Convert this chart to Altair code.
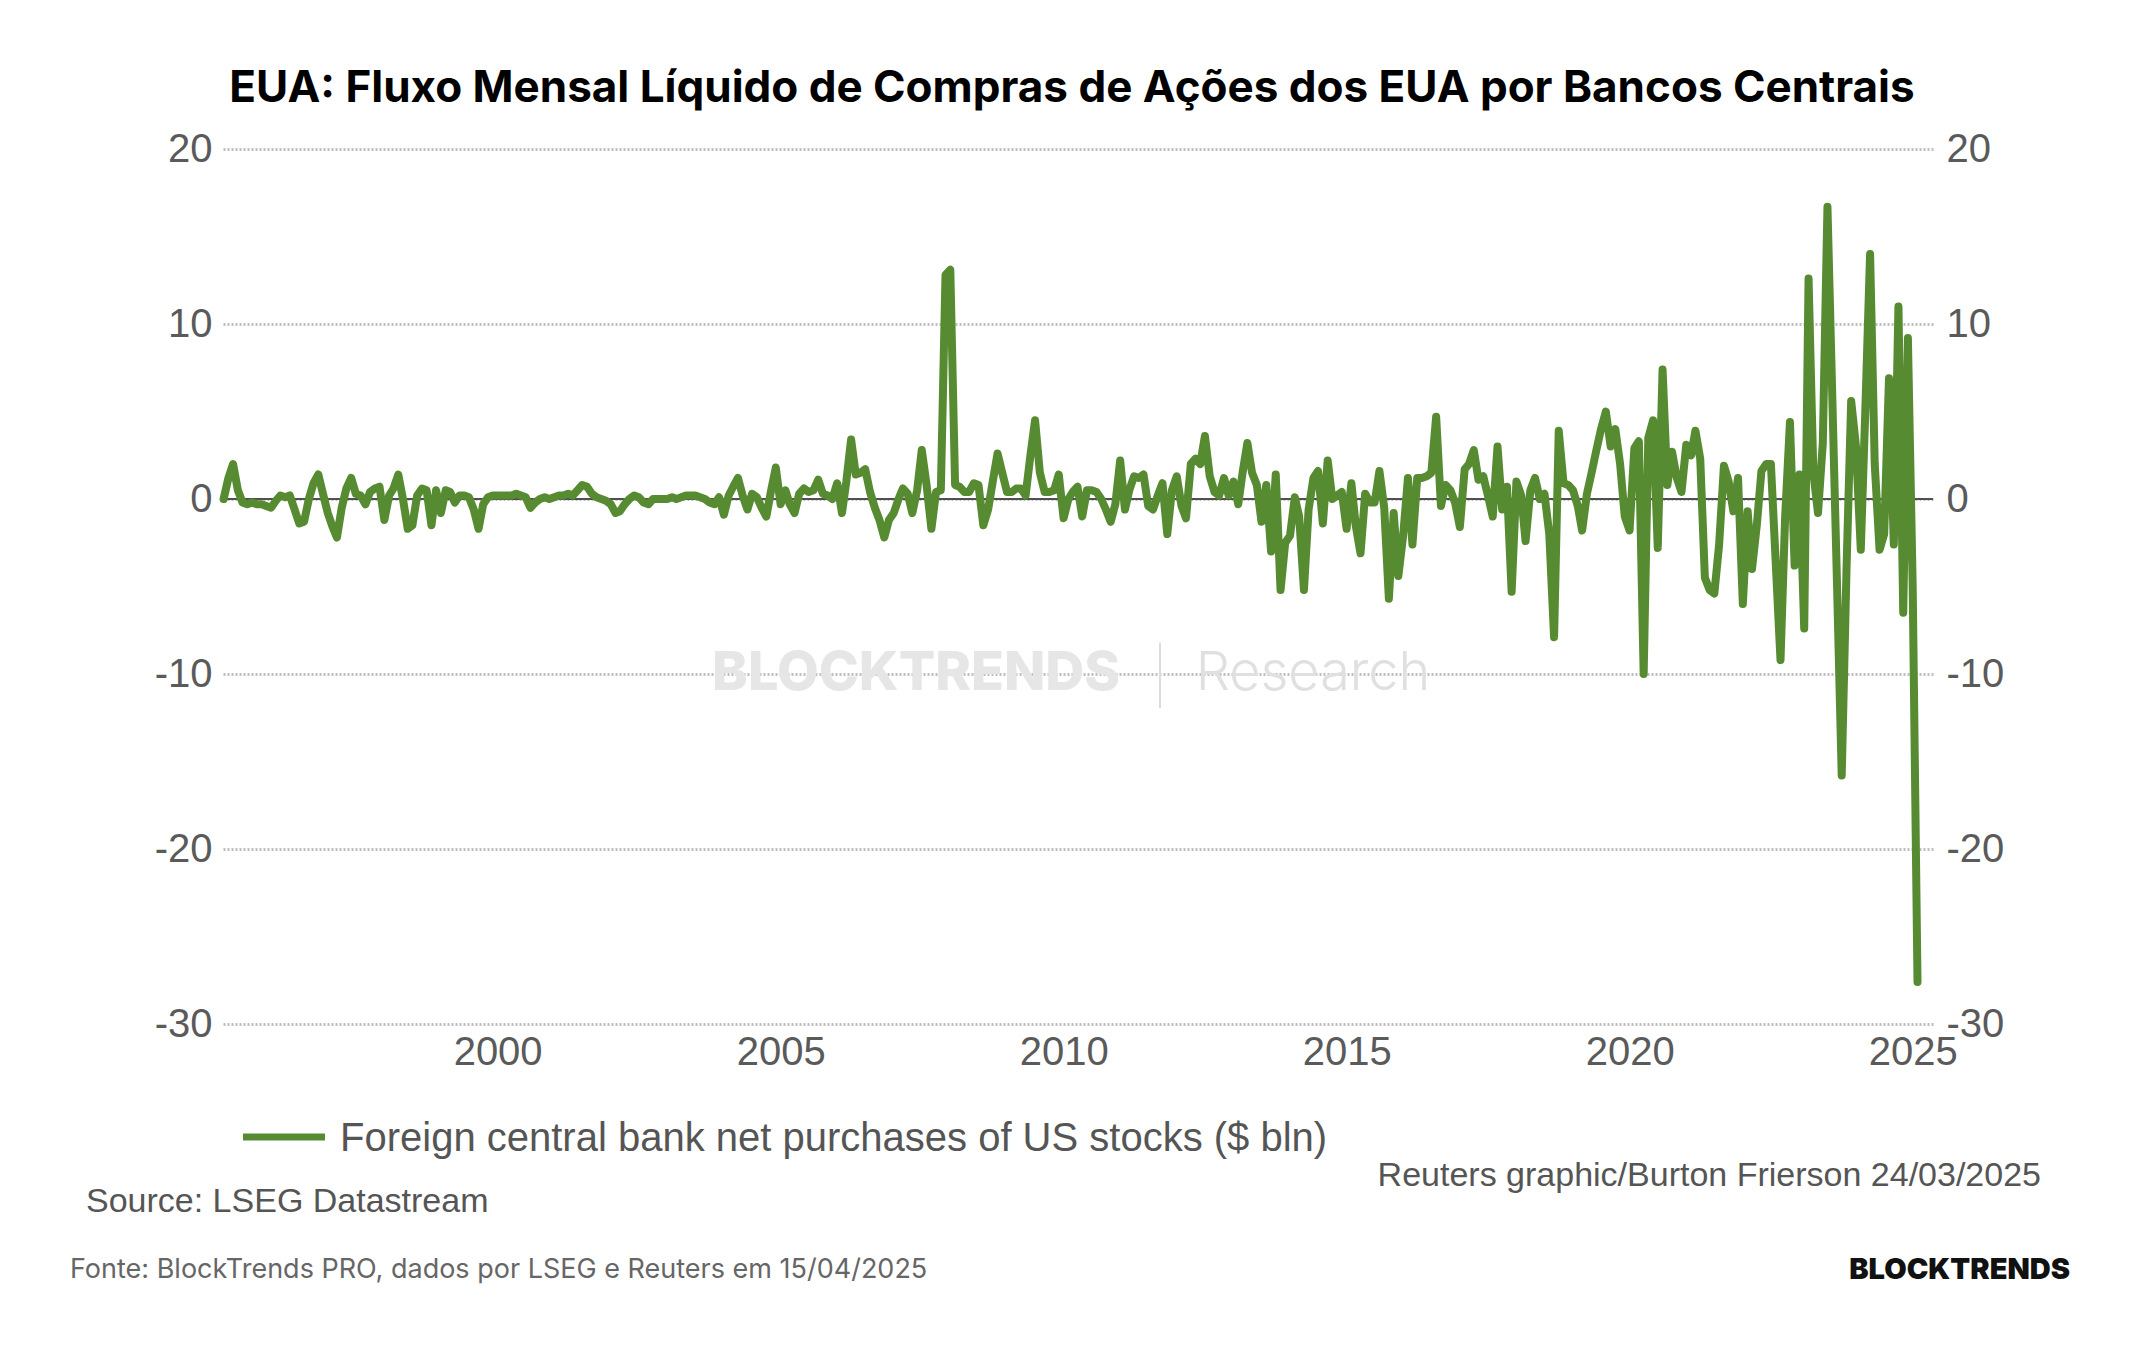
import calendar

import altair as alt
import pandas as pd

# ---- text -------------------------------------------------------------
TITLE = "EUA: Fluxo Mensal Líquido de Compras de Ações dos EUA por Bancos Centrais"
SERIES_NAME = "Foreign central bank net purchases of US stocks ($ bln)"
SOURCE = "Source: LSEG Datastream"
CREDIT = "Reuters graphic/Burton Frierson 24/03/2025"
FOOTER = "Fonte: BlockTrends PRO, dados por LSEG e Reuters em 15/04/2025"
BRAND = "BLOCKTRENDS"
WATERMARK_LEFT = "BLOCKTRENDS"
WATERMARK_RIGHT = "Research"

# ---- data -------------------------------------------------------------
# Monthly net purchases ($ bln), month-end observations from Feb 1995 to Jan 2025
START_YEAR, START_MONTH = 1995, 2
net_purchases = [
    0.0, 1.2, 2.0, 0.5, -0.2, -0.3, -0.2, -0.3, -0.3, -0.4, -0.5, -0.1,
    0.2, 0.1, 0.2, -0.6, -1.4, -1.3, 0.0, 0.9, 1.4, 0.3, -0.8, -1.6,
    -2.2, -0.5, 0.6, 1.2, 0.3, 0.2, -0.3, 0.4, 0.6, 0.7, -1.2, 0.2,
    0.6, 1.4, 0.0, -1.7, -1.5, 0.2, 0.6, 0.5, -1.5, 0.5, -0.8, 0.5,
    0.4, -0.2, 0.2, 0.2, 0.1, -0.6, -1.7, -0.3, 0.1, 0.2, 0.2, 0.2,
    0.2, 0.2, 0.3, 0.2, 0.1, -0.5, -0.2, 0.0, 0.1, 0.0, 0.1, 0.2,
    0.2, 0.3, 0.2, 0.5, 0.8, 0.7, 0.3, 0.1, 0.0, -0.1, -0.3, -0.8,
    -0.7, -0.3, 0.0, 0.2, 0.1, -0.2, -0.3, 0.0, 0.0, 0.0, 0.0, 0.1,
    0.0, 0.1, 0.2, 0.2, 0.2, 0.1, 0.0, -0.2, -0.3, 0.1, -0.9, 0.2,
    0.7, 1.2, 0.2, -0.6, 0.3, 0.1, -0.5, -1.0, 0.5, 1.8, -0.3, 0.5,
    -0.3, -0.8, 0.3, 0.6, 0.4, 0.5, 1.1, 0.3, 0.2, 0.0, 0.9, -0.8,
    1.0, 3.4, 1.4, 1.5, 1.7, 0.4, -0.5, -1.2, -2.2, -1.2, -0.8, 0.0,
    0.6, 0.3, -0.8, 0.5, 2.8, 0.8, -1.7, 0.4, 0.5, 12.8, 13.1, 0.8,
    0.7, 0.4, 0.4, 0.9, 0.8, -1.5, -0.6, 1.0, 2.6, 1.5, 0.4, 0.4,
    0.6, 0.6, 0.2, 2.5, 4.5, 1.5, 0.4, 0.4, 0.5, 1.4, -1.1, 0.0,
    0.4, 0.7, -1.0, 0.5, 0.5, 0.4, 0.0, -0.6, -1.3, -0.3, 2.2, -0.6,
    0.5, 1.3, 1.2, 1.4, -0.4, -0.6, 0.2, 0.9, -2.0, 0.5, 1.3, -0.4,
    -1.1, 2.0, 2.3, 2.0, 3.6, 1.3, 0.4, 0.2, 1.2, 0.2, 1.0, -0.3,
    1.5, 3.2, 1.5, 0.8, -1.3, 0.8, -3.0, 1.4, -5.2, -2.5, -2.1, 0.1,
    -1.0, -5.2, -0.6, 1.2, 1.6, -1.4, 2.2, 0.0, 0.2, 0.4, -1.7, 0.9,
    -1.5, -3.1, 0.3, -0.2, -0.2, 1.6, -0.5, -5.7, -0.8, -4.4, -2.1, 1.2,
    -2.6, 1.2, 1.2, 1.3, 1.5, 4.7, -0.4, 0.8, 0.5, -0.2, -1.6, 1.7,
    2.0, 2.8, 1.1, 1.3, 0.2, -1.0, 3.0, -0.6, 0.7, -5.3, 1.0, 0.2,
    -2.4, 0.5, 1.2, 0.0, 0.3, -2.0, -7.9, 3.9, 0.9, 0.8, 0.5, -0.4,
    -1.8, 0.3, 1.5, 2.8, 4.0, 5.0, 3.0, 4.0, 2.0, -1.0, -1.8, 2.9,
    3.3, -10.0, 3.5, 4.5, -2.8, 7.4, 0.8, 2.7, 1.2, 0.4, 3.1, 2.5,
    3.9, 2.3, -4.5, -5.2, -5.4, -2.6, 1.9, 1.0, -0.7, 1.2, -6.0, -0.7,
    -4.0, -1.5, 1.6, 2.0, 2.0, -3.6, -9.2, -1.0, 4.4, -3.8, 1.4, -7.4,
    12.6, 1.5, -0.8, 3.2, 16.7, 5.9, -5.0, -15.8, -4.0, 5.6, 3.0, -2.9,
    5.0, 14.0, 2.0, -2.9, -2.0, 6.9, -2.6, 11.0, -6.5, 9.2, -5.0, -27.6,
]

y_ticks = [20, 10, 0, -10, -20, -30]
x_tick_years = [2000, 2005, 2010, 2015, 2020, 2025]


def month_end(i):
    k = START_MONTH - 1 + i
    year, month = START_YEAR + k // 12, k % 12 + 1
    day = calendar.monthrange(year, month)[1]
    return f"{year:04d}-{month:02d}-{day:02d}"


df = pd.DataFrame(
    {"date": [month_end(i) for i in range(len(net_purchases))], "value": net_purchases}
)

# ---- style ------------------------------------------------------------
GREEN = "#578b32"
AXIS_GREY = "#5a5a5a"
LABEL_FONT = "Liberation Sans"
BRAND_FONT = "Inter"
PLOT_W, PLOT_H = 1710, 875
PAD = {"left": 223, "top": 149, "right": 211, "bottom": 326}

x_scale = alt.Scale(
    type="utc",
    domain=[
        alt.DateTime(year=1995, month=2, date=24, utc=True),
        alt.DateTime(year=2025, month=5, date=11, utc=True),
    ],
)
y_scale = alt.Scale(domain=[-30, 20], nice=False, zero=False)

x_axis = alt.Axis(
    values=[alt.DateTime(year=y, month=1, date=1, utc=True) for y in x_tick_years],
    format="%Y",
    labelFont=LABEL_FONT,
    labelFontSize=40,
    labelColor=AXIS_GREY,
    labelPadding=8,
    labelFlush=False,
    labelOverlap=False,
    domain=False,
    ticks=False,
    grid=False,
    title=None,
)

# plain hyphen for negative numbers
Y_LABEL_EXPR = "toString(datum.value)"

left_axis = alt.Axis(
    orient="left",
    values=y_ticks,
    labelExpr=Y_LABEL_EXPR,
    labelFont=LABEL_FONT,
    labelFontSize=40,
    labelColor=AXIS_GREY,
    labelPadding=11,
    labelOverlap=False,
    domain=False,
    ticks=False,
    grid=True,
    gridColor="#bebebe",
    gridDash=[2, 2],
    gridWidth=3,
    title=None,
)

right_axis = alt.Axis(
    orient="right",
    values=y_ticks,
    labelExpr=Y_LABEL_EXPR,
    labelFont=LABEL_FONT,
    labelFontSize=40,
    labelColor=AXIS_GREY,
    labelPadding=13,
    labelOverlap=False,
    domain=False,
    ticks=False,
    grid=False,
    title=None,
)


def label(text, x, y, size, color, font=LABEL_FONT, weight="normal", align="left"):
    return (
        alt.Chart(pd.DataFrame({"text": [text]}))
        .mark_text(
            align=align,
            baseline="middle",
            font=font,
            fontSize=size,
            fontWeight=weight,
            color=color,
        )
        .encode(text="text:N", x=alt.value(x), y=alt.value(y))
    )


# ---- layers -----------------------------------------------------------
watermark = alt.layer(
    label(WATERMARK_LEFT, 693, 525, 54, "#e6e6e6", font=BRAND_FONT, weight=800, align="center"),
    alt.Chart(pd.DataFrame({"text": [WATERMARK_LEFT]}))
    .mark_rule(color="#dcdcdc", strokeWidth=2)
    .encode(x=alt.value(937), y=alt.value(494), y2=alt.value(559)),
    label(WATERMARK_RIGHT, 1090, 525, 54, "#e0e0e0", font=BRAND_FONT, weight=300, align="center"),
)

zero_line = (
    alt.Chart(pd.DataFrame({"level": [0]}))
    .mark_rule(color="#505050", strokeWidth=2)
    .encode(y=alt.Y("level:Q", scale=y_scale, axis=right_axis))
)

series = (
    alt.Chart(df)
    .mark_line(color=GREEN, strokeWidth=8, strokeJoin="round", strokeCap="round")
    .encode(
        x=alt.X("date:T", scale=x_scale, axis=x_axis),
        y=alt.Y("value:Q", scale=y_scale, axis=left_axis),
    )
)

legend_swatch = (
    alt.Chart(pd.DataFrame({"text": [SERIES_NAME]}))
    .mark_rule(color=GREEN, strokeWidth=7)
    .encode(x=alt.value(20), x2=alt.value(102), y=alt.value(988))
)

notes = alt.layer(
    label(SERIES_NAME, 117, 990, 40, "#555555"),
    label(SOURCE, -137, 1053, 34, "#555555"),
    label(CREDIT, 1818, 1027, 34, "#555555", align="right"),
    label(FOOTER, -153, 1121, 27, "#666666", font=BRAND_FONT),
    label(BRAND, 1847, 1121, 29, "#111111", font=BRAND_FONT, weight=900, align="right"),
)

chart = (
    alt.layer(watermark, zero_line, series, legend_swatch, notes)
    .resolve_scale(y="independent")
    .properties(
        width=PLOT_W,
        height=PLOT_H,
        autosize=alt.AutoSizeParams(type="none"),
        padding=PAD,
        background="white",
        title=alt.TitleParams(
            text=TITLE,
            font=BRAND_FONT,
            fontSize=44,
            fontWeight="bold",
            color="#000000",
            anchor="middle",
            offset=18,
            dx=-6,
        ),
    )
    .configure_view(stroke=None)
)

chart.save("out.html", embed_options={"renderer": "svg", "actions": False})
